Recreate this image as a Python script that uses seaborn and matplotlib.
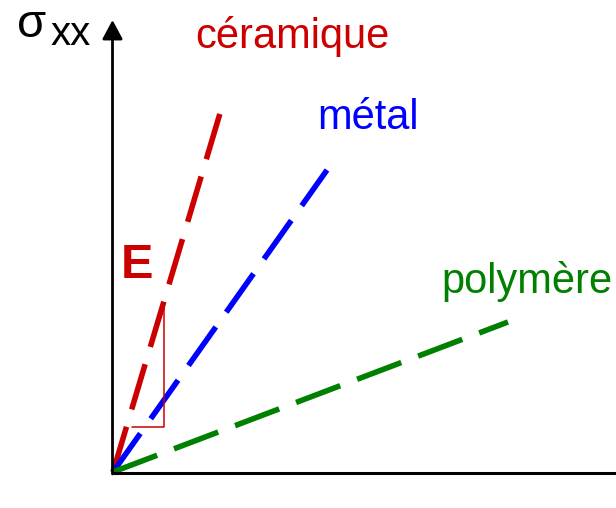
import matplotlib
matplotlib.use("Agg")
import matplotlib.pyplot as plt
import seaborn as sns
import pandas as pd

# materials and the end point of each elastic line (origin at 0, 0)
materials = ["céramique", "métal", "polymère"]
strain_end = [108, 214, 395]
stress_end = [362, 302, 150]
colors = ["#cc0000", "#0000ff", "#008000"]

# label anchors (left, baseline)
label_x = [82, 204, 328]
label_y = [424, 343, 179]

# slope triangle on the ceramic line
tri_x = [51, 51, 19]
tri_y = [167, 45, 45]

df = pd.DataFrame({
    "strain": [v for e in strain_end for v in (0, e)],
    "stress": [v for e in stress_end for v in (0, e)],
    "material": [m for m in materials for _ in range(2)],
})

sns.set_theme(style="white")
plt.rcParams["font.family"] = ["Liberation Sans", "DejaVu Sans"]
plt.rcParams["lines.scale_dashes"] = False

fig = plt.figure(figsize=(6.16, 5.08), dpi=100)
ax = fig.add_axes([0, 0, 1, 1])

for mat, col in zip(materials, colors):
    sub = df[df["material"] == mat]
    sns.lineplot(data=sub, x="strain", y="stress", color=col, lw=4.0,
                 sort=False, ax=ax, legend=False)
for line in ax.lines:
    line.set_linestyle((0, (34, 13)))
    line.set_dash_capstyle("butt")

ax.plot(tri_x, tri_y, color="#cc0000", lw=1.1)

# axes with arrow on vertical one
ax.plot([0, 503], [-1, -1], color="black", lw=2.2, solid_capstyle="butt")
ax.annotate("", xy=(-0.5, 452), xytext=(-0.5, -2),
            arrowprops=dict(arrowstyle="-|>,head_length=0.58,head_width=0.31",
                            mutation_scale=20, lw=2.0, color="black",
                            shrinkA=0, shrinkB=0))

for mat, col, lx, ly in zip(materials, colors, label_x, label_y):
    ax.text(lx, ly, mat, color=col, fontsize=30, ha="left", va="baseline")

ax.text(8, 194, "E", color="#cc0000", fontsize=35, fontweight="bold",
        ha="left", va="baseline")
ax.text(-96, 435, "σ", color="black", fontsize=34, ha="left", va="baseline")
ax.text(-62, 427, "xx", color="black", fontsize=29, ha="left", va="baseline")

ax.set_xlim(-113, 503)
ax.set_ylim(-36, 472)
ax.axis("off")

fig.savefig("out.png", dpi=100)
